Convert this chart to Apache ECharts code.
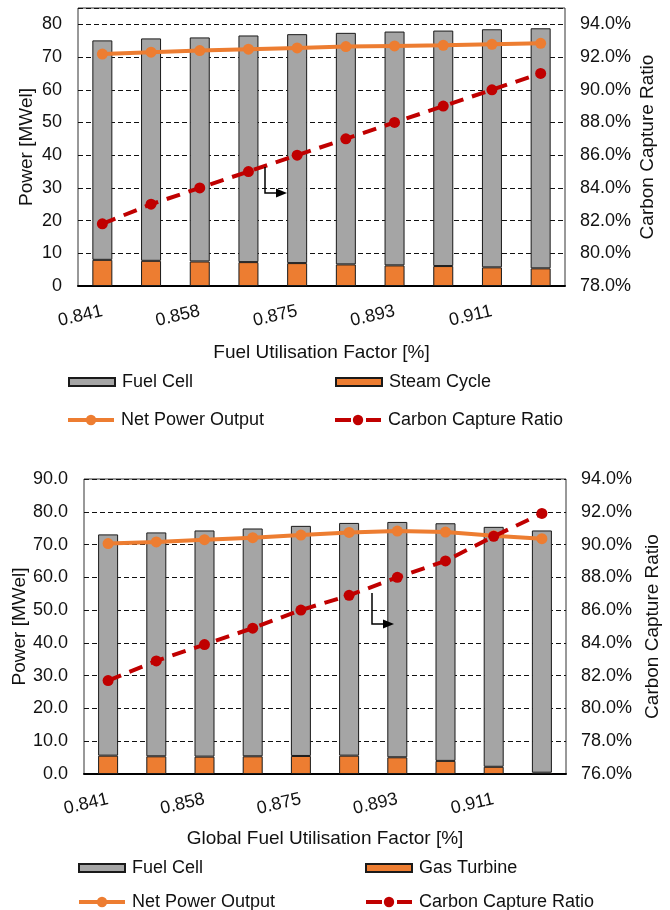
<!DOCTYPE html>
<html>
<head>
<meta charset="utf-8">
<script src="https://cdn.jsdelivr.net/npm/echarts@6/dist/echarts.min.js"></script>
<style>
  html, body { margin: 0; padding: 0; background: #fff; }
  #chart { width: 670px; height: 910px; }
</style>
</head>
<body>
<div id="chart"></div>
<script>
// Fuel utilisation factor for each operating point (every other one is labelled)
const fuelUtilisation = ['0.841', '0.850', '0.858', '0.867', '0.875', '0.884', '0.893', '0.902', '0.911', '0.920'];
const globalFuelUtilisation = ['0.841', '0.850', '0.858', '0.867', '0.875', '0.884', '0.893', '0.902', '0.911', '0.920'];

// Upper panel: fuel cell + steam cycle
const fcPowerA = [67.1, 68.0, 68.5, 69.3, 70.0, 70.8, 71.5, 72.0, 72.8, 73.4];
const steamCycle = [8.0, 7.7, 7.5, 7.3, 7.0, 6.6, 6.3, 6.1, 5.7, 5.4];
const netPowerA = [70.9, 71.5, 72.0, 72.4, 72.8, 73.2, 73.4, 73.6, 73.9, 74.2];
const captureA = [81.8, 83.0, 84.0, 85.0, 86.0, 87.0, 88.0, 89.0, 90.0, 91.0];

// Lower panel: fuel cell + gas turbine
const fcPowerB = [67.5, 68.3, 69.0, 69.5, 70.2, 71.0, 71.8, 72.5, 73.2, 73.9];
const gasTurbine = [5.6, 5.4, 5.3, 5.4, 5.5, 5.6, 5.1, 4.0, 2.2, 0.4];
const netPowerB = [70.3, 70.8, 71.5, 72.1, 72.9, 73.7, 74.1, 73.8, 72.7, 71.8];
const captureB = [81.7, 82.9, 83.9, 84.9, 86.0, 86.9, 88.0, 89.0, 90.5, 91.9];

const FONT = 'Liberation Sans, Arial, sans-serif';
const FS = 18;
const NAME_FS = 19;
const TXT = '#111';
const GRAY = '#A5A5A5';
const ORANGE = '#ED7D31';
const RED = '#C00000';
const CAPTURE_DASH = [14, 9];

const chart = echarts.init(document.getElementById('chart'), null, { renderer: 'canvas' });

function catAxis(gridIndex, data, name, gap) {
  return {
    type: 'category', gridIndex, data,
    boundaryGap: true,
    name, nameLocation: 'middle', nameGap: gap, nameMoveOverlap: false,
    nameTextStyle: { fontFamily: FONT, fontSize: NAME_FS, color: TXT },
    axisLine: { show: true, lineStyle: { color: '#000', width: 2 } },
    axisTick: { show: false },
    axisLabel: { interval: 1, rotate: 13, margin: 25, fontFamily: FONT, fontSize: FS, color: TXT }
  };
}
function powerAxis(gridIndex, max, decimals, gap) {
  return {
    type: 'value', gridIndex, position: 'left',
    min: 0, max, interval: 10,
    name: 'Power [MWel]', nameLocation: 'middle', nameGap: gap, nameMoveOverlap: false,
    nameTextStyle: { fontFamily: FONT, fontSize: NAME_FS, color: TXT },
    axisLine: { show: false }, axisTick: { show: false },
    axisLabel: { margin: 16, showMaxLabel: max % 10 === 0, fontFamily: FONT, fontSize: FS, color: TXT,
                 formatter: v => v.toFixed(decimals) },
    splitLine: { show: true, lineStyle: { color: '#111', width: 1, type: [5, 3] } }
  };
}
function ratioAxis(gridIndex, min, max, gap) {
  return {
    type: 'value', gridIndex, position: 'right',
    min, max, interval: 2,
    name: 'Carbon Capture Ratio', nameLocation: 'middle', nameGap: gap, nameMoveOverlap: false,
    nameTextStyle: { fontFamily: FONT, fontSize: NAME_FS, color: TXT },
    axisLine: { show: false }, axisTick: { show: false },
    axisLabel: { margin: 15, showMaxLabel: max % 2 === 0, fontFamily: FONT, fontSize: FS, color: TXT,
                 formatter: v => v.toFixed(1) + '%' },
    splitLine: { show: false }
  };
}
function barSeries(name, xi, yi, stack, data, color) {
  return {
    name, type: 'bar', xAxisIndex: xi, yAxisIndex: yi, stack, data,
    barWidth: 20,
    itemStyle: { color, borderColor: '#1a1a1a', borderWidth: 1 },
    emphasis: { disabled: true }
  };
}
function lineSeries(name, xi, yi, data, color, dashed, z) {
  return {
    name, type: 'line', xAxisIndex: xi, yAxisIndex: yi, data, z,
    symbol: 'circle', symbolSize: 11,
    lineStyle: { color, width: 4, type: dashed ? CAPTURE_DASH : 'solid' },
    itemStyle: { color },
    emphasis: { disabled: true }
  };
}
function legendBar(name, left, top) {
  return {
    data: [name], left, top, padding: 0, selectedMode: false,
    icon: 'rect', itemWidth: 46, itemHeight: 8, itemGap: 0,
    textStyle: { fontFamily: FONT, fontSize: FS, color: TXT, padding: [0, 0, 0, 2] }
  };
}
function legendLine(name, left, top, dash) {
  return {
    data: [name], left, top, padding: 0, selectedMode: false,
    itemWidth: 46, itemHeight: 13, itemGap: 0,
    lineStyle: { width: 4, type: dash || 'solid' },
    textStyle: { fontFamily: FONT, fontSize: FS, color: TXT, padding: [0, 0, 0, 2] }
  };
}
function arrow(x, y1, y2, xEnd) {
  return [
    { type: 'polyline', shape: { points: [[x, y1], [x, y2], [xEnd - 9, y2]] },
      style: { stroke: '#000', lineWidth: 1.5, fill: null }, z: 100 },
    { type: 'polygon', shape: { points: [[xEnd - 11, y2 - 4.5], [xEnd, y2], [xEnd - 11, y2 + 4.5]] },
      style: { fill: '#000' }, z: 100 }
  ];
}

const option = {
  animation: false,
  backgroundColor: '#fff',
  grid: [
    { left: 78, top: 8, width: 487, height: 278, show: true, borderColor: '#333', borderWidth: 1, backgroundColor: 'transparent' },
    { left: 84, top: 479, width: 486, height: 295, show: true, borderColor: '#333', borderWidth: 1, backgroundColor: 'transparent' }
  ],
  xAxis: [
    catAxis(0, fuelUtilisation, 'Fuel Utilisation Factor [%]', 57),
    catAxis(1, globalFuelUtilisation, 'Global Fuel Utilisation Factor [%]', 55)
  ],
  yAxis: [
    powerAxis(0, 85, 0, 42),
    ratioAxis(0, 78, 95, 73),
    powerAxis(1, 90, 1, 55),
    ratioAxis(1, 76, 94, 77)
  ],
  legend: [
    legendBar('Fuel Cell', 68, 373),
    legendBar('Steam Cycle', 335, 373),
    legendLine('Net Power Output', 66, 411),
    legendLine('Carbon Capture Ratio', 333, 411, [16, 15]),
    legendBar('Fuel Cell', 78, 859),
    legendBar('Gas Turbine', 365, 859),
    legendLine('Net Power Output', 77, 893),
    legendLine('Carbon Capture Ratio', 364, 893, [16, 15])
  ],
  series: [
    barSeries('Steam Cycle', 0, 0, 'powerA', steamCycle, ORANGE),
    barSeries('Fuel Cell', 0, 0, 'powerA', fcPowerA, GRAY),
    lineSeries('Net Power Output', 0, 0, netPowerA, ORANGE, false, 3),
    lineSeries('Carbon Capture Ratio', 0, 1, captureA, RED, true, 4),
    barSeries('Gas Turbine', 1, 2, 'powerB', gasTurbine, ORANGE),
    barSeries('Fuel Cell', 1, 2, 'powerB', fcPowerB, GRAY),
    lineSeries('Net Power Output', 1, 2, netPowerB, ORANGE, false, 3),
    lineSeries('Carbon Capture Ratio', 1, 3, captureB, RED, true, 4)
  ],
  graphic: [].concat(arrow(265, 167, 193, 287), arrow(372, 593, 624, 394))
};

chart.setOption(option);
</script>
</body>
</html>
